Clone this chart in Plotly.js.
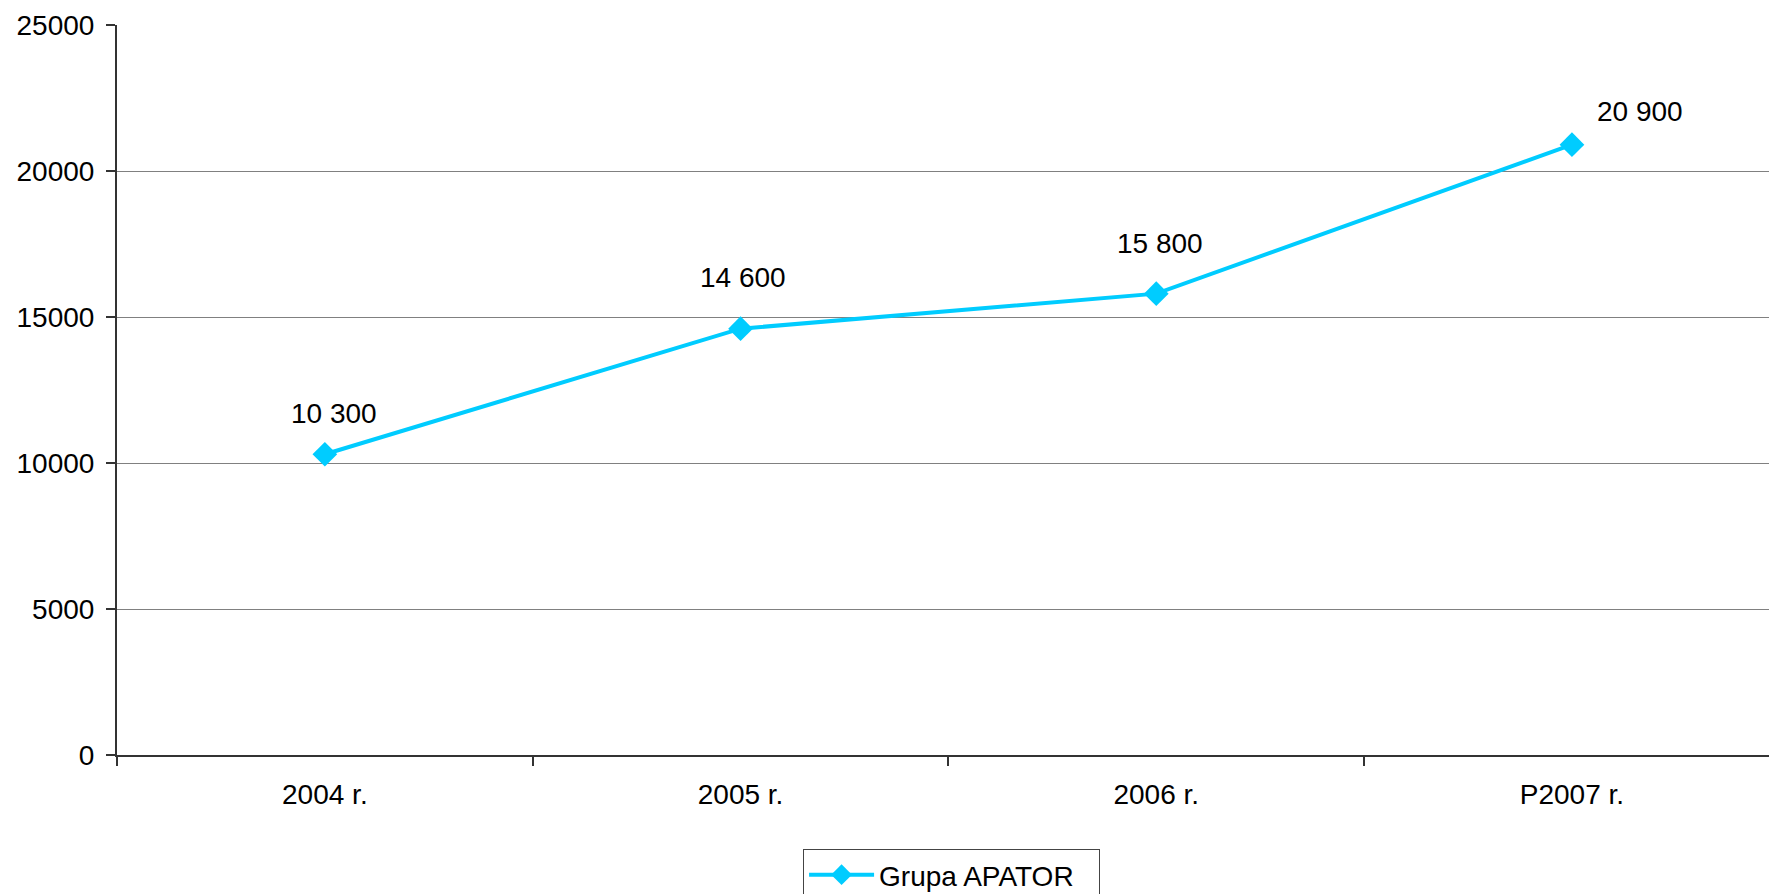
<!DOCTYPE html>
<html>
<head>
<meta charset="utf-8">
<script src="https://cdn.plot.ly/plotly-3.0.1.min.js"></script>
<style>
html,body{margin:0;padding:0;background:#fff;}
#chart{width:1769px;height:894px;}
</style>
</head>
<body>
<div id="chart"></div>
<script>
// Data
var categories = ["2004 r.", "2005 r.", "2006 r.", "P2007 r."];
var values = [10300, 14600, 15800, 20900];
var labels = ["10 300", "14 600", "15 800", "20 900"];
var seriesName = "Grupa APATOR";
var yTicks = [0, 5000, 10000, 15000, 20000, 25000];

// Label offsets (styling)
var labelXShift = [9, 2, 4, 68];
var labelYShift = [41, 51, 50, 33];

var FONT = "Liberation Sans, Arial, sans-serif";
var FS = 28;

var trace = {
  type: "scatter",
  mode: "lines+markers",
  x: categories,
  y: values,
  name: seriesName,
  line: {color: "#00CCFF", width: 4},
  marker: {symbol: "diamond", size: 19, color: "#00CCFF"},
  hoverinfo: "skip",
  cliponaxis: false
};

var annotations = values.map(function(v, i) {
  return {
    x: categories[i], y: v, xref: "x", yref: "y",
    text: labels[i], showarrow: false,
    xshift: labelXShift[i], yshift: labelYShift[i],
    font: {family: FONT, size: FS, color: "#000"}
  };
});

var layout = {
  width: 1769, height: 894,
  margin: {l: 117, r: 0, t: 25, b: 139, pad: 0, autoexpand: false},
  paper_bgcolor: "#fff",
  plot_bgcolor: "#fff",
  showlegend: true,
  font: {family: FONT, size: FS, color: "#000"},
  xaxis: {
    type: "category",
    categoryorder: "array",
    categoryarray: categories,
    range: [-0.5, 3.474],
    tickson: "boundaries",
    ticks: "outside",
    ticklen: 9,
    tickwidth: 2,
    tickcolor: "#333",
    showline: true,
    linecolor: "#333",
    linewidth: 2,
    showgrid: false,
    zeroline: false,
    tickfont: {family: FONT, size: FS, color: "#000"},
    ticklabelstandoff: 13,
    fixedrange: true
  },
  yaxis: {
    range: [0, 25000],
    tickvals: yTicks,
    ticktext: yTicks.map(String),
    ticks: "outside",
    ticklen: 9,
    tickwidth: 2,
    tickcolor: "#333",
    showline: true,
    linecolor: "#333",
    linewidth: 2,
    showgrid: true,
    gridcolor: "#808080",
    gridwidth: 1,
    zeroline: false,
    tickfont: {family: FONT, size: FS, color: "#000"},
    ticklabelstandoff: 6,
    fixedrange: true
  },
  legend: {
    x: 0.4153, y: -0.1288,
    xanchor: "left", yanchor: "top",
    orientation: "h",
    bordercolor: "#444",
    borderwidth: 1,
    bgcolor: "#fff",
    itemwidth: 65,
    entrywidth: 215,
    font: {family: FONT, size: FS, color: "#000"}
  },
  annotations: annotations
};

Plotly.newPlot("chart", [trace], layout, {displayModeBar: false, staticPlot: true});
</script>
</body>
</html>
